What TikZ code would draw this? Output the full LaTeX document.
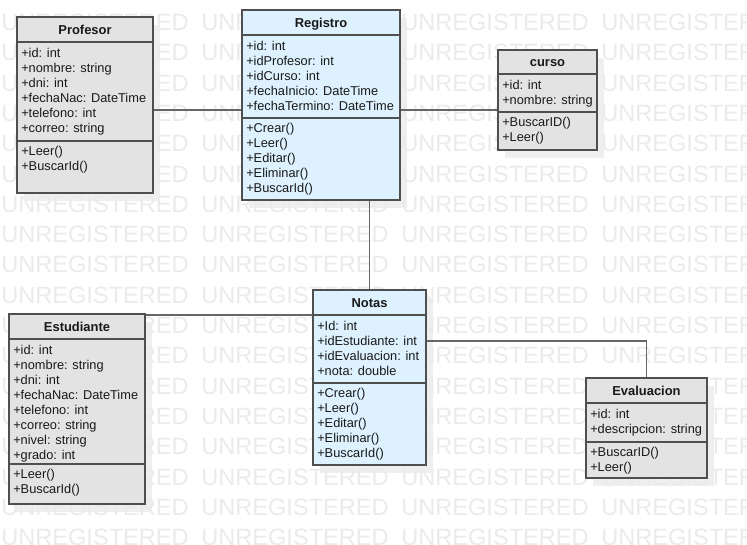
\documentclass[tikz,border=0pt]{standalone}
\usepackage{fontspec}
\setmainfont{Liberation Sans}
\usetikzlibrary{fit}
\definecolor{greyfill}{HTML}{E3E3E3}
\definecolor{bluefill}{HTML}{DDF1FF}
\definecolor{bordc}{HTML}{4F4F4F}
\definecolor{connc}{HTML}{666666}
\definecolor{wmc}{HTML}{EBEBEB}
\definecolor{shadc}{HTML}{EFEFEF}
\pgfdeclarelayer{bg}
\pgfdeclarelayer{shadow}
\pgfdeclarelayer{wm}
\pgfsetlayers{bg,shadow,wm,main}
\tikzset{
  umlbox/.style={draw=bordc, line width=1.3pt, inner sep=0pt},
  sepline/.style={draw=bordc, line width=1.3pt},
  conn/.style={draw=connc, line width=1.4pt},
  titletext/.style={font=\fontsize{9.7}{11}\selectfont\bfseries, text=black!90, inner sep=0pt},
  itemtext/.style={font=\fontsize{9.6}{11}\selectfont, text=black!90, inner sep=0pt},
  wmtext/.style={font=\fontsize{17.7}{20}\selectfont, text=wmc, inner sep=0pt}
}
% #1 name, #2 left, #3 top, #4 right, #5 bottom, #6 header line, #7 separator, #8 fill, #9 title
\newcommand{\umlclass}[9]{%
  \begin{pgfonlayer}{shadow}
    \fill[shadc] (#2+7,#3+8) rectangle (#4+7,#5+8);
  \end{pgfonlayer}
  \node[umlbox, fill=#8, fit={(#2,#3) (#4,#5)}] (#1) {};
  \draw[sepline] (#2,#6) -- (#4,#6);
  \draw[sepline] (#2,#7) -- (#4,#7);
  \node[titletext, anchor=base] (#1-title) at ({(#2+#4)/2},#6-7.5) {#9};
}
% #1 prefix, #2 x, #3 first baseline, #4 list
\newcommand{\umllines}[4]{%
  \foreach \txt [count=\i] in {#4} {
    \node[itemtext, anchor=base west] (#1-\i) at (#2,{#3+(\i-1)*15}) {\txt};
  }
}
\begin{document}
\begin{tikzpicture}[x=0.75pt, y=-0.75pt]
\useasboundingbox (0,0) rectangle (747,544);
\begin{pgfonlayer}{bg}
  \fill[white] (0,0) rectangle (747,544);
\end{pgfonlayer}
\begin{pgfonlayer}{wm}
  \foreach \r in {0,...,17} {
    \foreach \c in {0,...,3} {
      \node[wmtext, anchor=base west] (wm-\r-\c) at (\c*200+1,{30.5+\r*30.3}) {UNREGISTERED};
    }
  }
\end{pgfonlayer}

% Profesor
\umlclass{profesor}{17}{17}{153}{193}{42}{141}{greyfill}{Profesor}
\umllines{profesor-a}{21}{57}{+id: int, +nombre: string, +dni: int, +fechaNac: DateTime, +telefono: int, +correo: string}
\umllines{profesor-m}{21}{155}{+Leer(), +BuscarId()}

% Registro
\umlclass{registro}{242}{10}{400}{200}{35}{118}{bluefill}{Registro}
\umllines{registro-a}{246}{50}{+id: int, +idProfesor: int, +idCurso: int, +fechaInicio: DateTime, +fechaTermino: DateTime}
\umllines{registro-m}{246}{132}{+Crear(), +Leer(), +Editar(), +Eliminar(), +BuscarId()}

% curso
\umlclass{curso}{498}{50}{597}{150}{74}{112}{greyfill}{curso}
\umllines{curso-a}{502}{89}{+id: int, +nombre: string}
\umllines{curso-m}{502}{126}{+BuscarID(), +Leer()}

% Estudiante
\umlclass{estudiante}{9}{314}{145}{504}{339}{464}{greyfill}{Estudiante}
\umllines{estudiante-a}{13}{354}{+id: int, +nombre: string, +dni: int, +fechaNac: DateTime, +telefono: int, +correo: string, +nivel: string, +grado: int}
\umllines{estudiante-m}{13}{478}{+Leer(), +BuscarId()}

% Notas
\umlclass{notas}{313}{290}{426}{465}{315}{383}{bluefill}{Notas}
\umllines{notas-a}{317}{330}{+Id: int, +idEstudiante: int, +idEvaluacion: int, +nota: double}
\umllines{notas-m}{317}{397}{+Crear(), +Leer(), +Editar(), +Eliminar(), +BuscarId()}

% Evaluacion
\umlclass{evaluacion}{586}{378}{707}{478}{403}{442}{greyfill}{Evaluacion}
\umllines{evaluacion-a}{590}{418}{+id: int, +descripcion: string}
\umllines{evaluacion-m}{590}{456}{+BuscarID(), +Leer()}

% connectors
\draw[conn] (profesor.east |- 0,110) -- (registro.west |- 0,110);
\draw[conn] (registro.east |- 0,110) -- (curso.west |- 0,110);
\draw[conn] (notas.north) -- (notas.north |- registro.south);
\draw[conn] (estudiante.east |- 0,315) -- (notas.west |- 0,315);
\draw[conn] (notas.east |- 0,341) -| (evaluacion.north);
\end{tikzpicture}
\end{document}
